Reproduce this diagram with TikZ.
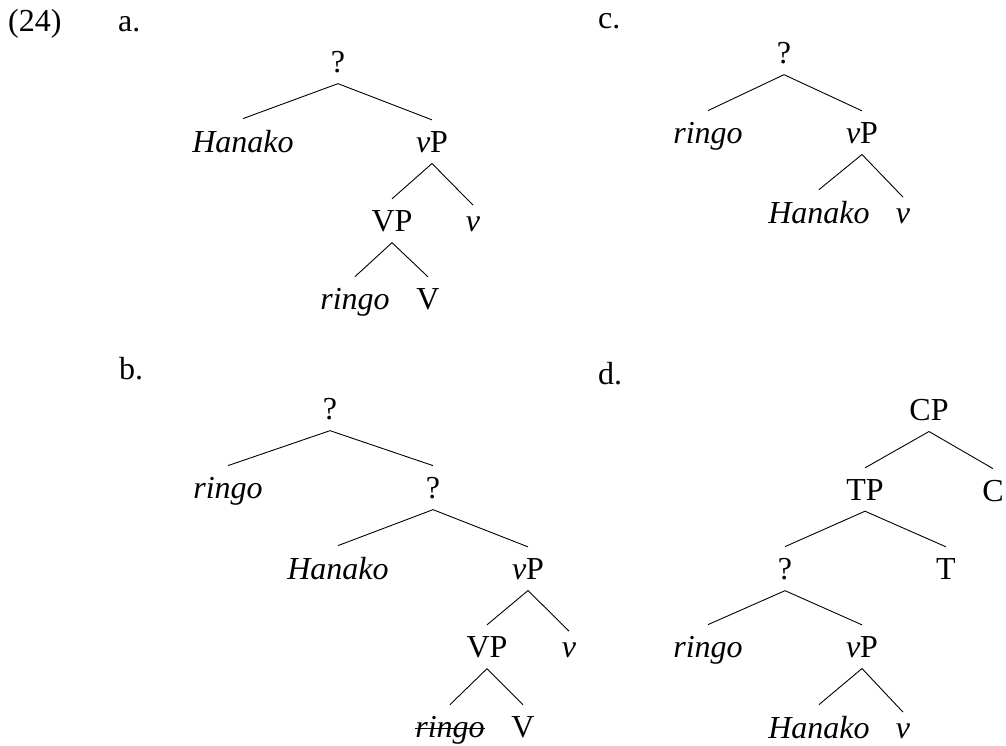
\documentclass[tikz,border=0pt]{standalone}
\usepackage{fontspec}
\setmainfont{Liberation Serif}
\begin{document}
\begin{tikzpicture}[x=1pt,y=-1pt,
  lab/.style={font=\fontsize{32}{38}\selectfont, anchor=base, inner xsep=0pt, inner ysep=11pt},
  tag/.style={font=\fontsize{32}{38}\selectfont, anchor=base west, inner sep=0pt},
  br/.style={line width=0.9pt}]
\useasboundingbox (0,0) rectangle (1006,745);

% example number and panel letters
\node[tag] (num) at (8,31) {(24)};
\node[tag] (la) at (118,31) {a.};
\node[tag] (lc) at (598,28) {c.};
\node[tag] (lb) at (119,379) {b.};
\node[tag] (ld) at (598,384) {d.};

% (a)
\node[lab] (qa)  at (338,72)  {?};
\node[lab] (ha)  at (243,152) {\itshape Hanako};
\node[lab] (vpa) at (432,152) {\textit{v}P};
\node[lab] (VPa) at (392,231) {VP};
\node[lab] (va)  at (473,231) {\itshape v};
\node[lab] (ra)  at (355,309) {\itshape ringo};
\node[lab] (Va)  at (428,309) {V};
\draw[br] (ha.north) -- (qa.south) -- (vpa.north);
\draw[br] (VPa.north) -- (vpa.south) -- (va.north);
\draw[br] (ra.north) -- (VPa.south) -- (Va.north);

% (c)
\node[lab] (qc)  at (784,63)  {?};
\node[lab] (rc)  at (708,143) {\itshape ringo};
\node[lab] (vpc) at (862,143) {\textit{v}P};
\node[lab] (hc)  at (819,223) {\itshape Hanako};
\node[lab] (vc)  at (903,223) {\itshape v};
\draw[br] (rc.north) -- (qc.south) -- (vpc.north);
\draw[br] (hc.north) -- (vpc.south) -- (vc.north);

% (b)
\node[lab] (qb1) at (330,419) {?};
\node[lab] (rb1) at (228,498) {\itshape ringo};
\node[lab] (qb2) at (433,498) {?};
\node[lab] (hb)  at (338,579) {\itshape Hanako};
\node[lab] (vpb) at (528,579) {\textit{v}P};
\node[lab] (VPb) at (487,657) {VP};
\node[lab] (vb)  at (569,657) {\itshape v};
\node[lab] (rb2) at (450,737) {\itshape ringo};
\node[lab] (Vb)  at (523,737) {V};
\draw[br] (rb1.north) -- (qb1.south) -- (qb2.north);
\draw[br] (hb.north) -- (qb2.south) -- (vpb.north);
\draw[br] (VPb.north) -- (vpb.south) -- (vb.north);
\draw[br] (rb2.north) -- (VPb.south) -- (Vb.north);
% struck-out lower copy
\draw[br] ([yshift=9pt]rb2.base west) -- ([yshift=9pt]rb2.base east);

% (d)
\node[lab] (cp)  at (929,420) {CP};
\node[lab] (tp)  at (865,500) {TP};
\node[lab] (cd)  at (993,501) {C};
\node[lab] (qd)  at (785,579) {?};
\node[lab] (td)  at (946,579) {T};
\node[lab] (rd)  at (708,657) {\itshape ringo};
\node[lab] (vpd) at (862,657) {\textit{v}P};
\node[lab] (hd)  at (819,738) {\itshape Hanako};
\node[lab] (vd)  at (903,738) {\itshape v};
\draw[br] (tp.north) -- (cp.south) -- (cd.north);
\draw[br] (qd.north) -- (tp.south) -- (td.north);
\draw[br] (rd.north) -- (qd.south) -- (vpd.north);
\draw[br] (hd.north) -- (vpd.south) -- (vd.north);
\end{tikzpicture}
\end{document}
